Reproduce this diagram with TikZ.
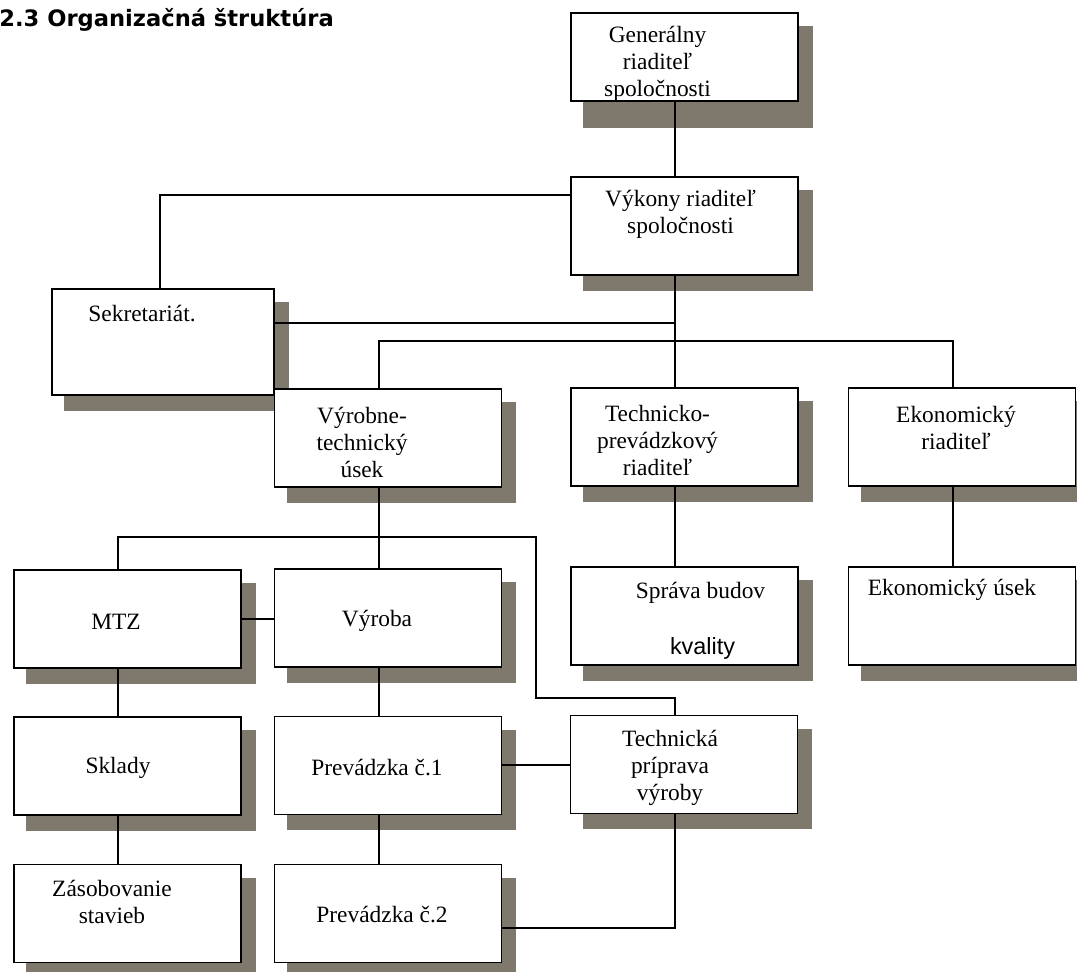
\documentclass[tikz,border=0pt]{standalone}
\usepackage{fontspec}
\setmainfont{Liberation Serif}
\newfontfamily\titlefont{DejaVu Sans}
\newfontfamily\arialfont{Liberation Sans}
\usepackage{tikz}
\pgfdeclarelayer{shadowlayer}
\pgfsetlayers{shadowlayer,main}
\definecolor{shadowgray}{RGB}{126,121,108}
\tikzstyle{orgbox}=[rectangle, draw=black, line width=0.7pt, fill=white, minimum width=113.5pt, minimum height=49pt, inner sep=0pt]
\tikzstyle{txt}=[font=\fontsize{11.7}{13.5}\selectfont, align=center, inner sep=0pt]
\tikzstyle{link}=[black, line width=0.55pt]
\tikzstyle{thicklink}=[black, line width=1pt]

\begin{document}
\begin{tikzpicture}[x=0.5pt, y=-0.5pt]
        \useasboundingbox (0,0) rectangle (1077,972);
        \node [anchor=base west, inner sep=0pt, font={\titlefont\fontsize{11.3}{14}\selectfont\bfseries}] (title) at (-1,27) {2.3 Organizačná štruktúra};

        % Vedenie
        \node [style=orgbox, minimum height=44pt, label={[txt, xshift=-13.5pt, yshift=-3.5pt]center:{Generálny\\riaditeľ\\spoločnosti}}] (gen) at (684.5, 57) {};
        \node [style=orgbox, label={[txt, xshift=-2pt, yshift=6pt]center:{Výkony riaditeľ\\spoločnosti}}] (vyk) at (684.5, 226) {};
        \node [style=orgbox, minimum width=111pt, minimum height=53pt, label={[txt, xshift=-10.5pt, yshift=14pt]center:{Sekretariát.}}] (sek) at (163, 342) {};

        % Useky
        \node [style=orgbox, label={[txt, xshift=-13pt, yshift=-2pt]center:{Výrobne-\\technický\\úsek}}] (vyr) at (388, 438) {};
        \node [style=orgbox, label={[txt, xshift=-13.5pt, yshift=-1.5pt]center:{Technicko-\\prevádzkový\\riaditeľ}}] (tech) at (684.5, 437) {};
        \node [style=orgbox, label={[txt, xshift=-3pt, yshift=4.5pt]center:{Ekonomický\\riaditeľ}}] (ekr) at (962, 437) {};
        \node [style=orgbox, label={[txt, xshift=8pt, yshift=11.5pt]center:{Správa budov}}, label={[txt, font={\arialfont\fontsize{11.7}{13.5}\selectfont}, xshift=9pt, yshift=-16pt]center:{kvality}}] (sprava) at (684.5, 616) {};
        \node [style=orgbox, label={[txt, xshift=-5pt, yshift=13pt]center:{Ekonomický úsek}}] (eku) at (962, 616) {};

        % Vyroba
        \node [style=orgbox, label={[txt, xshift=-5.75pt, yshift=-1.5pt]center:{MTZ}}] (mtz) at (127.5, 619) {};
        \node [style=orgbox, label={[txt, xshift=-5.5pt, yshift=-1.5pt]center:{Výroba}}] (vyroba) at (388, 618) {};
        \node [style=orgbox, label={[txt, xshift=-4.75pt, yshift=-1pt]center:{Sklady}}] (sklady) at (127.5, 766) {};
        \node [style=orgbox, label={[txt, xshift=-5.5pt, yshift=-1pt]center:{Prevádzka č.1}}] (prev1) at (388, 765.5) {};
        \node [style=orgbox, label={[txt, xshift=-7.75pt, yshift=6pt]center:{Zásobovanie\\stavieb}}] (zas) at (127.5, 913.5) {};
        \node [style=orgbox, label={[txt, xshift=-3pt, yshift=-0.5pt]center:{Prevádzka č.2}}] (prev2) at (388, 913.5) {};
        \node [style=orgbox, label={[txt, xshift=-7pt, yshift=-1.75pt]center:{Technická\\príprava\\výroby}}] (tpv) at (684, 764.5) {};

        \begin{pgfonlayer}{shadowlayer}
            \foreach \n in {gen,vyk,sek,vyr,tech,ekr,sprava,eku,mtz,vyroba,sklady,prev1,zas,prev2,tpv}
                \fill [shadowgray] ([shift={(6.5pt,-7pt)}]\n.north west) rectangle ([shift={(7pt,-7.5pt)}]\n.south east);
            \fill [shadowgray] ([shift={(6.5pt,0pt)}]gen.south west) rectangle ([shift={(7pt,-13pt)}]gen.south east);
        \end{pgfonlayer}

        \coordinate (hub) at (675, 341);
        \coordinate (low) at (379, 537);
        \coordinate (bend) at (536, 698);
        \coordinate (vykL) at ([yshift=15.5pt]vyk.west);
        \coordinate (sekR) at ([yshift=9.5pt]sek.east);
        \coordinate (prev2R) at ([yshift=-7.25pt]prev2.east);

        % Top
        \draw [style=link] ([xshift=-4.75pt]gen.south) -- ([xshift=-4.75pt]vyk.north);
        \draw [style=link] (vykL) -| ([xshift=-1.5pt]sek.north);
        \draw [style=link] ([xshift=-4.75pt]vyk.south) -- (hub);
        \draw [style=link] (sekR) -- (sekR -| hub);
        \draw [style=link] ([xshift=-4.5pt]vyr.north) |- (hub) -| ([xshift=-4.5pt]ekr.north);
        \draw [style=link] (hub) -- (hub |- tech.north);
        \draw [style=link] (hub |- tech.south) -- (hub |- sprava.north);
        \draw [style=link] ([xshift=-4.5pt]ekr.south) -- ([xshift=-4.5pt]eku.north);

        % Bottom
        \draw [style=link] ([xshift=-4.5pt]vyr.south) -- (low);
        \draw [style=link] ([xshift=-4.75pt]mtz.north) |- (low) -| (bend) -| ([xshift=-4.5pt]tpv.north);
        \draw [style=link] (low) -- ([xshift=-4.5pt]vyroba.north);
        \draw [style=thicklink] (mtz.east) -- (mtz.east -| vyroba.west);
        \draw [style=link] ([xshift=-4.75pt]mtz.south) -- ([xshift=-4.75pt]sklady.north);
        \draw [style=link] ([xshift=-4.75pt]sklady.south) -- ([xshift=-4.75pt]zas.north);
        \draw [style=link] ([xshift=-4.5pt]vyroba.south) -- ([xshift=-4.5pt]prev1.north);
        \draw [style=link] ([xshift=-4.5pt]prev1.south) -- ([xshift=-4.5pt]prev2.north);
        \draw [style=thicklink] (prev1.east) -- (prev1.east -| tpv.west);
        \draw [style=link] (prev2R) -| ([xshift=-4.5pt]tpv.south);
    \end{tikzpicture}
\end{document}
